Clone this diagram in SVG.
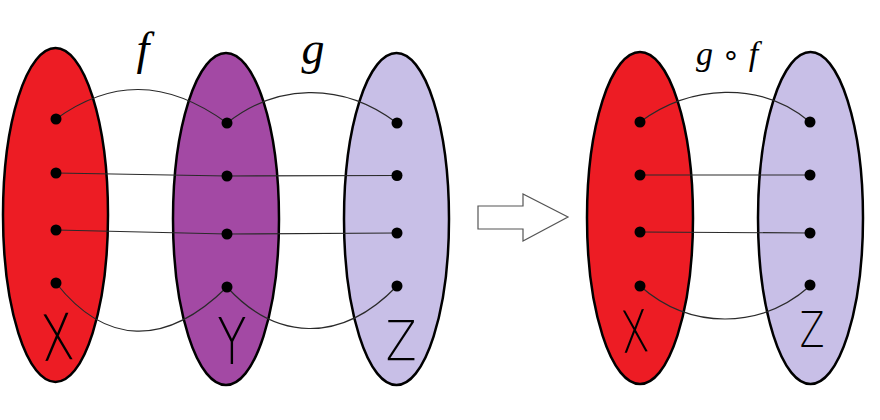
<svg xmlns="http://www.w3.org/2000/svg" width="880" height="420" viewBox="0 0 880 420">
<style>
.set{stroke:#000;stroke-width:2.5}
.dot{fill:#000}
.map{fill:none;stroke:#2a2a2a;stroke-width:1.2}
.lbl{font-family:"Liberation Serif","DejaVu Serif",serif;font-style:italic;fill:#000}
.hand{font-family:"DejaVu Sans","Liberation Sans",sans-serif;font-weight:200;fill:#000;text-anchor:middle}
</style>
<rect width="880" height="420" fill="#fff"/>
<g id="X1">
<ellipse class="set" cx="55.5" cy="215" rx="52.5" ry="167" fill="#ED1C24"/>
<text class="hand" transform="translate(59,360) rotate(-4) scale(0.75,1)" font-size="64">X</text>
</g>
<g id="Y">
<ellipse class="set" cx="226" cy="219" rx="53" ry="166" fill="#A349A4"/>
<text class="hand" transform="translate(232,364) scale(0.75,1)" font-size="64">Y</text>
</g>
<g id="Z1">
<ellipse class="set" cx="396.5" cy="219" rx="52.5" ry="166" fill="#C8BFE7"/>
<text class="hand" transform="translate(401,360) scale(0.8,1)" font-size="56">Z</text>
</g>
<g id="X2">
<ellipse class="set" cx="640" cy="218" rx="53" ry="166" fill="#ED1C24"/>
<text class="hand" transform="translate(636,352) rotate(-4) scale(0.7,1)" font-size="58">X</text>
</g>
<g id="Z2">
<ellipse class="set" cx="810.5" cy="218" rx="52.5" ry="166" fill="#C8BFE7"/>
<text class="hand" transform="translate(812,347) scale(0.72,1)" font-size="50">Z</text>
</g>
<g id="connectors">
<path class="map" d="M56,119 C110,80 165,78 227,123"/>
<path class="map" d="M227,123 C275,85 340,80 397,123"/>
<path class="map" d="M56,173 L227,176 L397,175.5"/>
<path class="map" d="M56,230 L227,234 L397,233"/>
<path class="map" d="M56,283 C105,345 165,348 227,287"/>
<path class="map" d="M227,287 C275,340 340,345 397,286"/>
<path class="map" d="M640,122 C690,85 760,80 810,122"/>
<path class="map" d="M640,175 L810,175"/>
<path class="map" d="M640,232 L810,233"/>
<path class="map" d="M640,286 C690,330 760,330 810,286"/>
<path fill="#fff" stroke="#555" stroke-width="1.2" d="M478,206 L523,206 L523,194 L568,217 L523,241 L523,229 L478,229 Z"/>
</g>
<g id="dots">
<circle class="dot" cx="56" cy="119" r="5.5"/>
<circle class="dot" cx="56" cy="173" r="5.5"/>
<circle class="dot" cx="56" cy="230" r="5.5"/>
<circle class="dot" cx="56" cy="283" r="5.5"/>
<circle class="dot" cx="227" cy="123" r="5.5"/>
<circle class="dot" cx="227" cy="176" r="5.5"/>
<circle class="dot" cx="227" cy="234" r="5.5"/>
<circle class="dot" cx="227" cy="287" r="5.5"/>
<circle class="dot" cx="397" cy="123" r="5.5"/>
<circle class="dot" cx="397" cy="175.5" r="5.5"/>
<circle class="dot" cx="397" cy="233" r="5.5"/>
<circle class="dot" cx="397" cy="286" r="5.5"/>
<circle class="dot" cx="640" cy="122" r="5.5"/>
<circle class="dot" cx="640" cy="175" r="5.5"/>
<circle class="dot" cx="640" cy="232" r="5.5"/>
<circle class="dot" cx="640" cy="286" r="5.5"/>
<circle class="dot" cx="810" cy="122" r="5.5"/>
<circle class="dot" cx="810" cy="175" r="5.5"/>
<circle class="dot" cx="810" cy="233" r="5.5"/>
<circle class="dot" cx="810" cy="285" r="5.5"/>
</g>
<g id="labels">
<text class="lbl" x="143" y="64" font-size="46" text-anchor="middle">f</text>
<text class="lbl" x="313" y="64" font-size="46" text-anchor="middle">g</text>
<text class="lbl" x="727" y="65" font-size="34" text-anchor="middle">g <tspan font-style="normal" font-family="DejaVu Sans, sans-serif" font-size="30">∘</tspan> f</text>
</g>
</svg>
